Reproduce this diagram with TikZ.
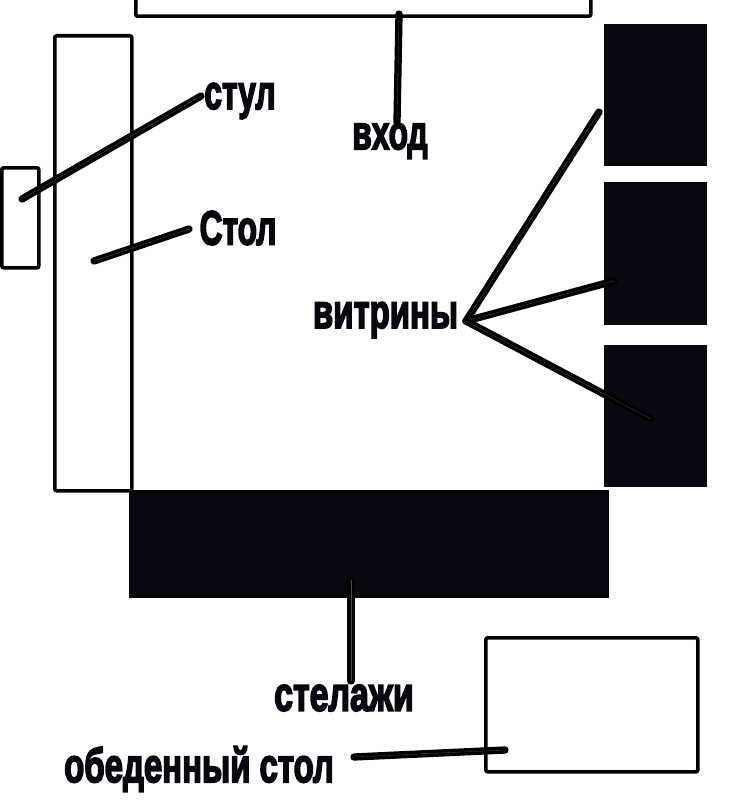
\documentclass[tikz,border=0pt]{standalone}
\usepackage{fontspec}
\setmainfont[FakeBold=4]{Liberation Sans}
\usepackage{tikz}
\definecolor{fillblack}{RGB}{8,9,16}
\tikzset{
  outlinebox/.style={draw=black, line width=3.6pt, rounded corners=2pt, fill=white},
  pointer/.style={draw=black, line width=3.5pt, double=black!70, double distance=.3pt, line cap=round},
  roomlabel/.style={font=\bfseries\fontsize{48}{48}\selectfont, text=fillblack, inner sep=0pt, xscale=.66}
}
\begin{document}
\begin{tikzpicture}[x=1pt, y=-1pt]
\useasboundingbox (0,0) rectangle (730,800);
% door and furniture outlines
\node[outlinebox, minimum width=455pt, minimum height=30pt, anchor=south west] (door) at (134,18) {};
\node[outlinebox, minimum width=77pt, minimum height=455pt, anchor=north west] (tablebox) at (53,34) {};
\node[outlinebox, minimum width=37pt, minimum height=100pt, anchor=north west] (chairbox) at (0,166) {};
\node[outlinebox, minimum width=212pt, minimum height=134pt, anchor=north west] (diningbox) at (484,636) {};
% showcases and shelves
\fill[fillblack] (604,24) rectangle (707,166);
\fill[fillblack] (604,182) rectangle (707,325);
\fill[fillblack] (604,345) rectangle (707,487);
\fill[fillblack] (129,490) rectangle (609,598);
% labels
\node[roomlabel] (chairlabel) at (240,101) {стул};
\node[roomlabel] (tablelabel) at (238,228) {Стол};
\node[roomlabel] (entrylabel) at (390,141) {вход};
\node[roomlabel, xscale=1.04] (caselabel) at (385.5,320) {витрины};
\node[roomlabel, xscale=1.07] (shelflabel) at (344,698) {стелажи};
\node[roomlabel, xscale=1.04] (dininglabel) at (199,769) {обеденный стол};
% free ends of the pointers
\coordinate (chairend) at (22,199);
\coordinate (chairstart) at (201,96);
\coordinate (tableend) at (94,261);
\coordinate (tablestart) at (189,229);
\coordinate (doorend) at (399,14);
\coordinate (entrystart) at (397,122);
\coordinate (fork) at (466,321);
\coordinate (caseone) at (599,112);
\coordinate (casetwo) at (614,281);
\coordinate (casethree) at (651,419);
\coordinate (shelfend) at (351,580);
\coordinate (shelfstart) at (351,681);
\coordinate (diningend) at (505,750);
\coordinate (diningstart) at (354,757);
% pointers
\draw[pointer] (chairstart) -- (chairend);
\draw[pointer] (tablestart) -- (tableend);
\draw[pointer] (entrystart) -- (doorend);
\draw[pointer] (fork) -- (caseone);
\draw[pointer] (fork) -- (casetwo);
\draw[pointer] (fork) -- (casethree);
\draw[pointer] (shelfstart) -- (shelfend);
\draw[pointer] (diningstart) -- (diningend);
\end{tikzpicture}
\end{document}
